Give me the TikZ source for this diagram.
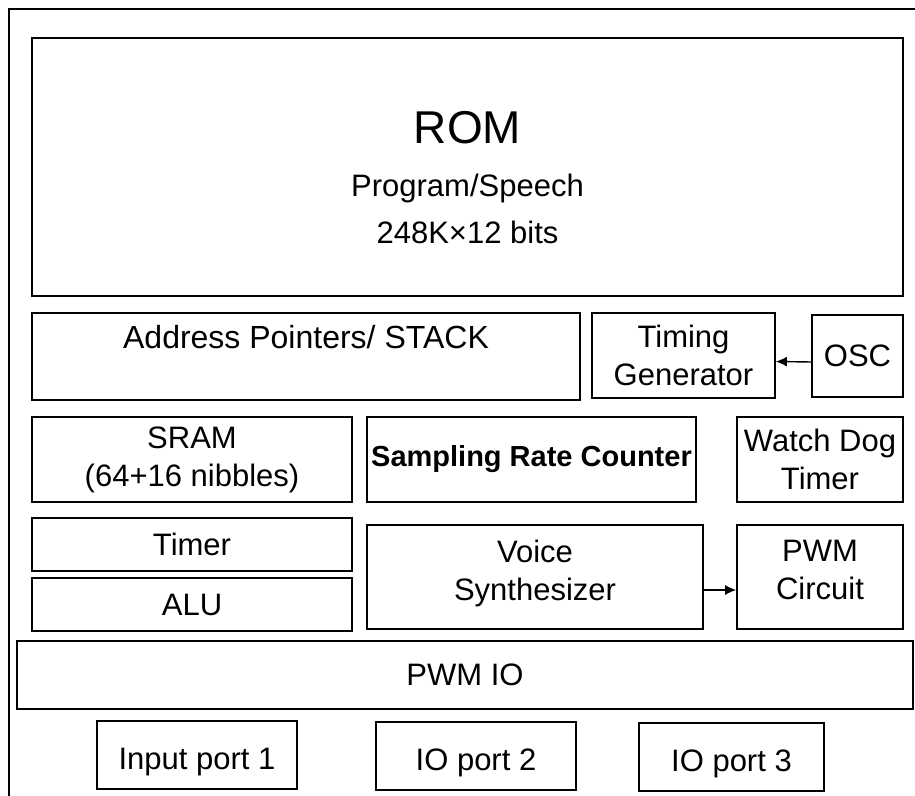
\documentclass[tikz,border=0pt]{standalone}
\usepackage{fontspec}
\setmainfont{Liberation Sans}
\usetikzlibrary{positioning}
\usetikzlibrary{arrows.meta}

\begin{document}
\begin{tikzpicture}
	[x=1pt, y=-1pt,
	block/.style={draw, line width=1.6pt, align=center, inner sep=0pt, font=\fontsize{31}{38}\selectfont},
	wideblock/.style={block, minimum height=85pt},
	flatblock/.style={block, minimum width=320pt, minimum height=53pt},
	port/.style={block, minimum height=68pt, text height=28pt, text depth=0pt},
	link/.style={-{Latex[length=11pt,width=10pt]}, line width=1.4pt}]

\useasboundingbox (0,0) rectangle (915,795);
\draw [line width=1.6pt] (9,800) -- (9,9) -- (920,9);

\node [block, minimum width=871pt, minimum height=258pt] (rom) at (467.5,167) {};
\node (romtext) at (467.5,178) [align=center, font=\fontsize{31}{47}\selectfont] {{\fontsize{46}{46}\selectfont ROM}\\[6pt] Program/Speech\\ 248K×12 bits};

\node [wideblock, minimum width=548pt, minimum height=87pt] (addr) at (306,356.5) {};
\node (addrtext) [below=10pt of addr.north, font=\fontsize{32}{38}\selectfont] {Address Pointers/ STACK};
\node [wideblock, minimum width=183pt] (timing) at (683.5,355.5) {Timing\\ Generator};
\node [wideblock, minimum width=91pt, minimum height=82pt] (osc) at (857.5,356) {OSC};

\node [wideblock, minimum width=320pt] (sram) at (192,459.5) {SRAM\\ (64+16 nibbles)};
\node [wideblock, minimum width=329pt, font=\fontsize{29}{36}\bfseries] (counter) at (531.5,459.5) {Sampling Rate Counter};
\node [wideblock, minimum width=166pt] (wdt) at (820,459.5) {Watch Dog\\ Timer};

\node [flatblock] (timer) at (192,544.5) {Timer};
\node [flatblock] (alu) at (192,604.5) {ALU};
\node [block, minimum width=336pt, minimum height=104pt, text depth=14pt] (voice) at (535,577) {Voice\\ Synthesizer};
\node [block, minimum width=166pt, minimum height=104pt, text depth=14pt] (pwm) at (820,577) {PWM\\ Circuit};

\node [block, minimum width=896pt, minimum height=68pt] (pwmio) at (465,675) {PWM IO};

\node [port, minimum width=200pt] (port1) at (197,755) {Input port 1};
\node [port, minimum width=200pt] (port2) at (476,756) {IO port 2};
\node [port, minimum width=185pt] (port3) at (731.5,757) {IO port 3};

\draw [link] ([yshift=-6pt]osc.west) -- ([yshift=-6pt]timing.east);
\draw [link] ([yshift=-13pt]voice.east) -- ([yshift=-13pt]pwm.west);

\end{tikzpicture}
\end{document}
